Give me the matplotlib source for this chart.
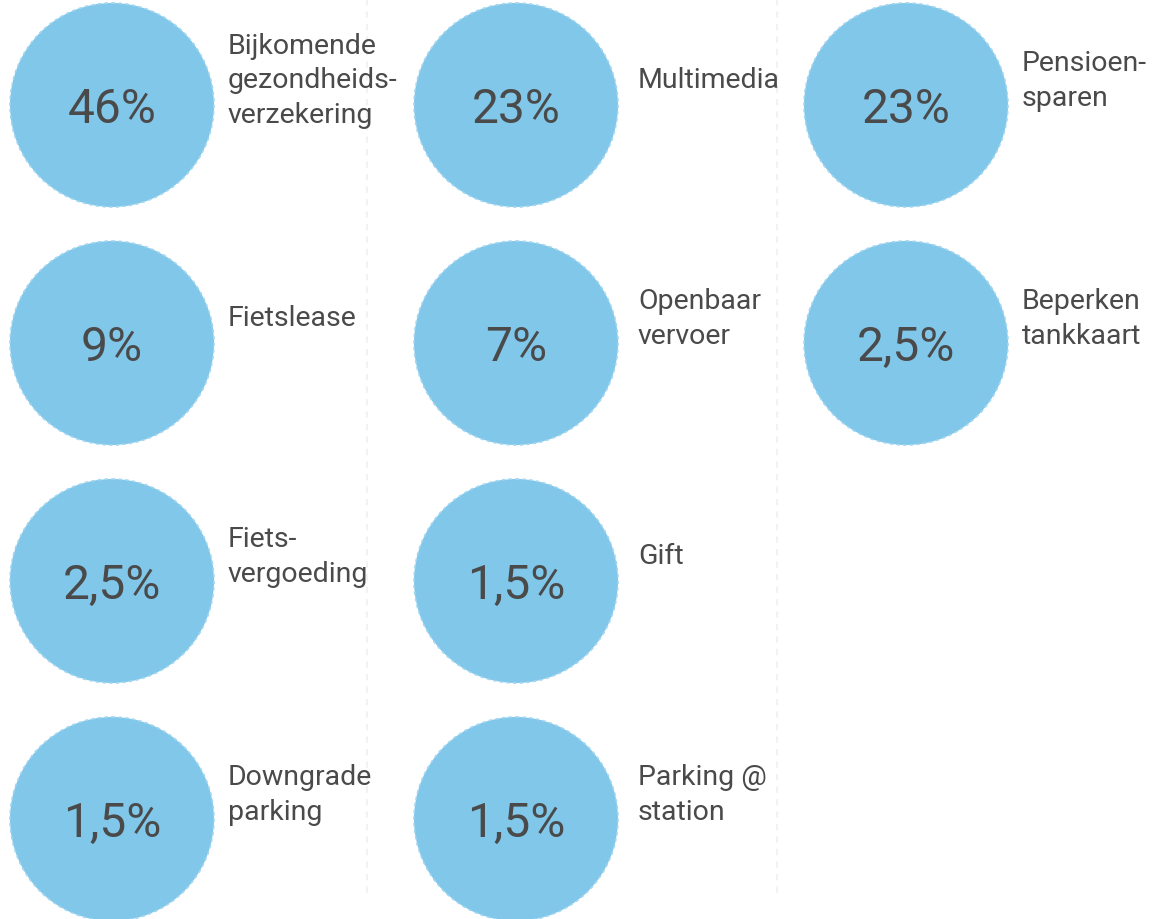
import matplotlib.pyplot as plt
from matplotlib.patches import Circle

# values shown inside the circles, in reading order
pct_labels = ['46%', '23%', '23%',
              '9%', '7%', '2,5%',
              '2,5%', '1,5%',
              '1,5%', '1,5%']
names = ['Bijkomende\ngezondheids-\nverzekering', 'Multimedia', 'Pensioen-\nsparen',
         'Fietslease', 'Openbaar\nvervoer', 'Beperken\ntankkaart',
         'Fiets-\nvergoeding', 'Gift',
         'Downgrade\nparking', 'Parking @\nstation']
rows = [0, 0, 0, 1, 1, 1, 2, 2, 3, 3]
cols = [0, 1, 2, 0, 1, 2, 0, 1, 0, 1]

# layout in pixels
col_x = [112, 516, 906]
label_x = [228, 638, 1022]
row_y = [106, 344, 582, 820]
radius = 102
fill = '#80c7ea'
txt_col = '#4a4a4a'

fig = plt.figure(figsize=(11.53, 9.2), dpi=100)
ax = fig.add_axes([0, 0, 1, 1])
ax.set_xlim(0, 1153)
ax.set_ylim(920, 0)
ax.axis('off')

# faint dashed separators between the columns
for x in [367, 777]:
    ax.plot([x, x], [0, 895], color='#f2f2f2', lw=1.5, ls=(0, (3, 3)), zorder=0)

for p, n, r, c in zip(pct_labels, names, rows, cols):
    cx, cy = col_x[c], row_y[r]
    ax.add_patch(Circle((cx, cy), radius, facecolor=fill, edgecolor='#a3d6f0',
                        lw=1.2, ls=(0, (2, 2)), zorder=2))
    ax.text(cx, cy + 4, p, ha='center', va='center', fontsize=34.5,
            family='Roboto', weight='normal', color=txt_col, zorder=3)
    ax.text(label_x[c], cy - 25, n, ha='left', va='center', fontsize=20.5,
            family='Roboto', weight='normal', color=txt_col,
            linespacing=1.38, zorder=3)

fig.savefig('out.png', dpi=100)
